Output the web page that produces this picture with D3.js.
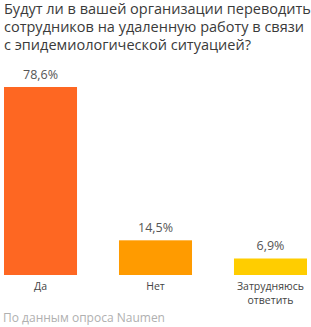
<!DOCTYPE html>
<html>
<head>
<meta charset="utf-8">
<script src="https://cdn.jsdelivr.net/npm/d3@7"></script>
<style>
  body { margin: 0; background: #fff; }
  text { font-family: "Open Sans", sans-serif; }
</style>
</head>
<body>
<div id="chart-area"></div>
<script>

var categories = ["Да", "Нет", "Затрудняюсь ответить"];
var values = [78.6, 14.5, 6.9];
var valueLabels = ["78,6%", "14,5%", "6,9%"];
var colors = ["#fe6722", "#ff9b00", "#ffcd00"];

var titleLines = ["Будут ли в вашей организации переводить",
                  "сотрудников на удаленную работу в связи",
                  "с эпидемиологической ситуацией?"];
var source = "По данным опроса Naumen";

var total_width = 311;
var total_height = 327;

var svg = d3.select('#chart-area').append('svg')
            .attr("width", total_width)
            .attr("height", total_height);

// bars area
var plotTop = 87, plotBottom = 275;

var x = d3.scaleBand().domain(categories).range([4, 307]).paddingInner(0.365).paddingOuter(0);
var y = d3.scaleLinear().domain([0, 78.6]).range([plotBottom, plotTop]);

svg.append("g").selectAll("text").data(titleLines).enter().append("text")
   .attr("x", 4)
   .attr("y", (d, i) => 14 + i * 18)
   .attr("font-size", "14.5px")
   .attr("fill", "#3a3a3a")
   .text(d => d);

svg.selectAll("rect.bar").data(values).enter().append("rect")
   .attr("class", "bar")
   .attr("x", (d, i) => x(categories[i]))
   .attr("y", d => y(d))
   .attr("width", x.bandwidth())
   .attr("height", d => plotBottom - y(d))
   .attr("fill", (d, i) => colors[i]);

svg.selectAll("text.val").data(values).enter().append("text")
   .attr("class", "val")
   .attr("x", (d, i) => x(categories[i]) + x.bandwidth() / 2)
   .attr("y", d => y(d) - 8)
   .attr("text-anchor", "middle")
   .attr("font-size", "12.5px")
   .attr("fill", "#555")
   .text((d, i) => valueLabels[i]);

// category labels, wrapped one word per line
categories.forEach(function(d) {
  var cx = x(d) + x.bandwidth() / 2;
  d.split(" ").forEach(function(w, i) {
    svg.append("text")
       .attr("class", "cat")
       .attr("x", cx)
       .attr("y", 290 + i * 14)
       .attr("text-anchor", "middle")
       .attr("font-size", "10.5px")
       .attr("fill", "#444")
       .text(w);
  });
});

svg.append("text")
   .attr("x", 3)
   .attr("y", 322)
   .attr("font-size", "12px")
   .attr("fill", "#b0b0b0")
   .text(source);

</script>
</body>
</html>
